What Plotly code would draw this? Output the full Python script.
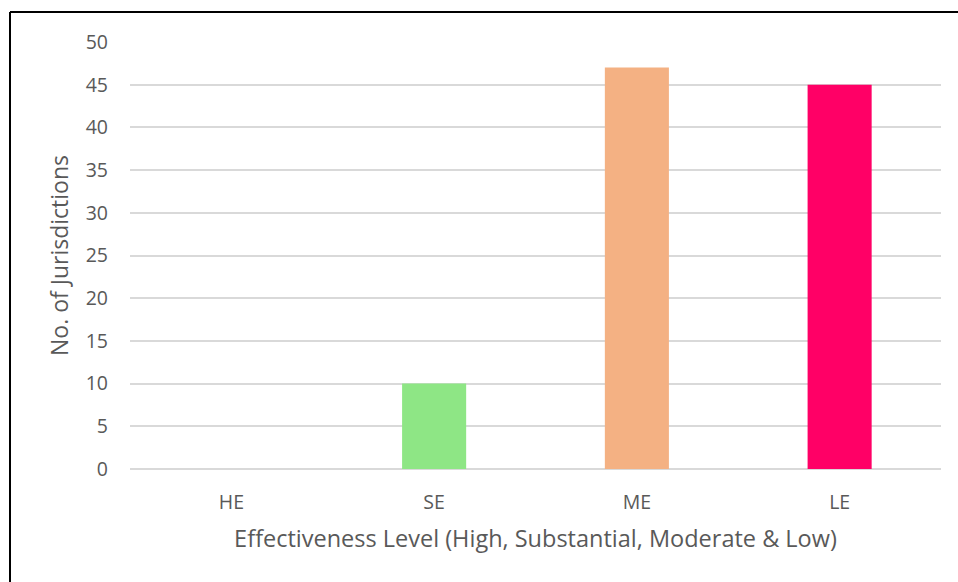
import plotly.graph_objects as go

# Jurisdictions per effectiveness rating
levels = ["HE", "SE", "ME", "LE"]
counts = [0, 10, 47, 45]
bar_colors = ["#5B9BD5", "#8EE685", "#F4B183", "#FF0066"]

W, H = 958, 582
L, R, T, B = 130, 17, 42, 113
pw, ph = W - L - R, H - T - B

def px_x(x):
    return (x - L) / pw

def px_y(y):
    return (H - B - y) / ph

fig = go.Figure(
    go.Bar(
        x=levels,
        y=counts,
        marker=dict(color=bar_colors, line=dict(width=0)),
        width=0.316,
        hoverinfo="x+y",
    )
)

font_family = "Open Sans, Noto Sans, sans-serif"

fig.update_layout(
    width=W,
    height=H,
    margin=dict(l=L, r=R, t=T, b=B),
    paper_bgcolor="white",
    plot_bgcolor="white",
    showlegend=False,
    font=dict(family=font_family, color="#595959", size=19),
    xaxis=dict(
        showgrid=False,
        showline=False,
        ticks="",
        ticklabelstandoff=19,
        tickfont=dict(size=19.5, color="#595959"),
        title=dict(
            text="Effectiveness Level (High, Substantial, Moderate & Low)",
            font=dict(size=23.5, color="#595959"),
            standoff=17,
        ),
    ),
    yaxis=dict(
        range=[0, 50],
        dtick=5,
        showgrid=True,
        gridcolor="#D9D9D9",
        gridwidth=1.5,
        zeroline=True,
        zerolinecolor="#D9D9D9",
        zerolinewidth=1.5,
        showline=False,
        ticks="",
        ticklabelstandoff=21,
        tickfont=dict(size=19.5, color="#595959"),
        title=dict(
            text="No. of Jurisdictions",
            font=dict(size=23, color="#595959"),
            standoff=10,
        ),
    ),
    shapes=[
        dict(type="line", xref="paper", yref="paper",
             x0=px_x(10), x1=px_x(W + 5), y0=px_y(12), y1=px_y(12),
             line=dict(color="black", width=2)),
        dict(type="line", xref="paper", yref="paper",
             x0=px_x(10), x1=px_x(10), y0=px_y(12), y1=px_y(H + 5),
             line=dict(color="black", width=2)),
    ],
)

fig.write_html("out.html")
